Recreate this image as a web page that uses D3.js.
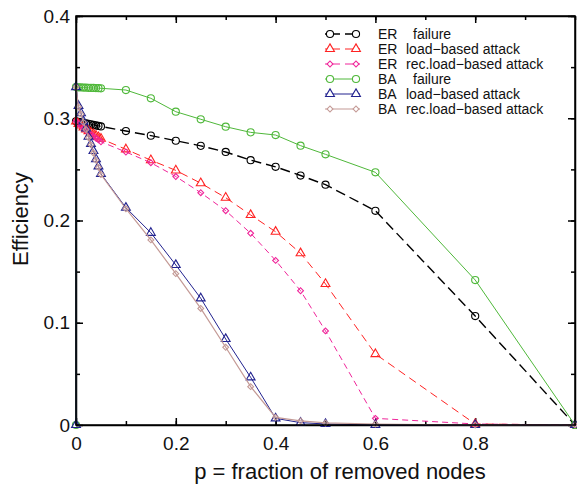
<!DOCTYPE html>
<html>
<head>
<meta charset="utf-8">
<script src="https://cdn.jsdelivr.net/npm/d3@7"></script>
<style>
  body { margin: 0; background: #fff; }
  svg { display: block; font-family: Arial, "Liberation Sans", sans-serif; }
  .axis path, .axis line { stroke: #000; stroke-width: 1.5; }
  .axis text { font-size: 19px; fill: #111; }
</style>
</head>
<body>
<div class="svg"></div>
<script>
//============= DATA =============//
// fraction of removed nodes, dense near 0 then coarse
const pValues = [0, 0.005, 0.01, 0.015, 0.02, 0.025, 0.03, 0.035, 0.04, 0.045, 0.05,
                 0.1, 0.15, 0.2, 0.25, 0.3, 0.35, 0.4, 0.45, 0.5, 0.6, 0.8, 1.0];

const erFailure = [0.297, 0.2965, 0.296, 0.2955, 0.295, 0.2945, 0.294, 0.2935, 0.293, 0.2925, 0.292,
                   0.2875, 0.283, 0.278, 0.273, 0.267, 0.259, 0.2525, 0.244, 0.235, 0.2095, 0.1065, 0.0];
const erLoad = [0.297, 0.2945, 0.293, 0.291, 0.289, 0.2875, 0.286, 0.2845, 0.283, 0.2815, 0.280,
                0.2696, 0.259, 0.249, 0.2365, 0.2223, 0.2054, 0.189, 0.168, 0.138, 0.0694, 0.001, 0.0];
const erRecLoad = [0.297, 0.2945, 0.2926, 0.2904, 0.2882, 0.286, 0.2842, 0.2824, 0.2806, 0.2788, 0.277,
                   0.267, 0.2565, 0.243, 0.2272, 0.2096, 0.1875, 0.161, 0.1313, 0.092, 0.0065, 0.001, 0.0];
const baFailure = [0.3305, 0.3303, 0.3301, 0.33, 0.3299, 0.3298, 0.3297, 0.3296, 0.3295, 0.3294, 0.3293,
                   0.3276, 0.3195, 0.3064, 0.299, 0.2917, 0.2862, 0.2836, 0.2732, 0.2647, 0.2471, 0.1418, 0.0];
const baLoad = [0.3305, 0.312, 0.305, 0.297, 0.290, 0.282, 0.275, 0.268, 0.260, 0.253, 0.2456,
                0.2125, 0.188, 0.1565, 0.1239, 0.0841, 0.0466, 0.0065, 0.0023, 0.001, 0.0, 0.0, 0.0];
const baRecLoad = [0.3305, 0.311, 0.304, 0.296, 0.289, 0.281, 0.274, 0.266, 0.259, 0.252, 0.245,
                   0.2115, 0.181, 0.148, 0.114, 0.076, 0.0375, 0.0075, 0.004, 0.002, 0.001, 0.0, 0.0];
// stray marks sitting on the origin for two BA runs
const originPoints = [{p: 0, e: 0}];

const xTickLabels = [0, 0.2, 0.4, 0.6, 0.8];
const yTickLabels = [0, 0.1, 0.2, 0.3, 0.4];

const series = [
  {net: "ER", name: "failure", values: erFailure, color: "#000000", dash: "10,5", width: 1.4, symbol: "circle", origin: false},
  {net: "ER", name: "load\u2212based attack", values: erLoad, color: "#ff2222", dash: "8,5", width: 1, symbol: "triangle", origin: false},
  {net: "ER", name: "rec.load\u2212based attack", values: erRecLoad, color: "#f0259a", dash: "6,4", width: 1, symbol: "diamond", origin: false},
  {net: "BA", name: "failure", values: baFailure, color: "#4fb83a", dash: null, width: 1, symbol: "circle", origin: true},
  {net: "BA", name: "load\u2212based attack", values: baLoad, color: "#22228f", dash: null, width: 1, symbol: "triangle", origin: true},
  {net: "BA", name: "rec.load\u2212based attack", values: baRecLoad, color: "#c49a96", dash: null, width: 1.2, symbol: "diamond", origin: false}
];

//============= SETUP =============//
const W = 577, H = 489;
const margin = {top: 16, right: 2, bottom: 64, left: 76};
const width = W - margin.left - margin.right,
      height = H - margin.top - margin.bottom;

const x = d3.scaleLinear().domain([0, 1]).range([0, width]);
const y = d3.scaleLinear().domain([0, 0.4]).range([height, 0]);

const svg = d3.select(".svg").append("svg")
    .attr("width", W)
    .attr("height", H);

const g = svg.append("g")
    .attr("transform", "translate(" + margin.left + "," + margin.top + ")");

//============= AXES =============//
const xMinor = d3.range(0, 1.0001, 0.1);
const yMinor = d3.range(0, 0.4001, 0.05);

// minor ticks (no labels), all four sides
g.append("g").attr("class", "axis")
    .attr("transform", "translate(0," + height + ")")
    .call(d3.axisBottom(x).tickValues(xMinor).tickSizeInner(-4).tickSizeOuter(0).tickFormat(""));
g.append("g").attr("class", "axis")
    .call(d3.axisTop(x).tickValues(xMinor).tickSizeInner(-4).tickSizeOuter(0).tickFormat(""));
g.append("g").attr("class", "axis")
    .call(d3.axisLeft(y).tickValues(yMinor).tickSizeInner(-4).tickSizeOuter(0).tickFormat(""));
g.append("g").attr("class", "axis")
    .attr("transform", "translate(" + width + ",0)")
    .call(d3.axisRight(y).tickValues(yMinor).tickSizeInner(-4).tickSizeOuter(0).tickFormat(""));

// major ticks with labels
g.append("g").attr("class", "axis")
    .attr("transform", "translate(0," + height + ")")
    .call(d3.axisBottom(x).tickValues(xTickLabels).tickSizeInner(-7).tickSizeOuter(0).tickPadding(12)
      .tickFormat(d => d === 0 ? "0" : d3.format(".1f")(d)))
    .select(".domain").remove();
g.append("g").attr("class", "axis")
    .call(d3.axisLeft(y).tickValues(yTickLabels).tickSizeInner(-7).tickSizeOuter(0).tickPadding(6)
      .tickFormat(d => d === 0 ? "0" : d3.format(".1f")(d)))
    .select(".domain").remove();
g.append("g").attr("class", "axis")
    .call(d3.axisTop(x).tickValues(xTickLabels).tickSizeInner(-7).tickSizeOuter(0).tickFormat(""))
    .select(".domain").remove();
g.append("g").attr("class", "axis")
    .attr("transform", "translate(" + width + ",0)")
    .call(d3.axisRight(y).tickValues(yTickLabels).tickSizeInner(-7).tickSizeOuter(0).tickFormat(""))
    .select(".domain").remove();

// axis titles
svg.append("text")
    .attr("x", 340).attr("y", 479)
    .attr("text-anchor", "middle")
    .style("font-size", "22px").style("fill", "#111")
    .text("p = fraction of removed nodes");
svg.append("text")
    .attr("transform", "translate(28,219) rotate(-90)")
    .attr("text-anchor", "middle")
    .style("font-size", "22px").style("fill", "#111")
    .text("Efficiency");

//============= LINES & MARKERS =============//
const symbols = {
  circle: d3.symbol().type(d3.symbolCircle).size(40),
  triangle: d3.symbol().type(d3.symbolTriangle).size(34),
  diamond: d3.symbol().type(d3.symbolSquare).size(17)   // drawn rotated 45deg
};
const symRotate = s => s === "diamond" ? " rotate(45)" : "";

const line = d3.line()
    .x(d => x(d.p))
    .y(d => y(d.e));

series.forEach(s => {
  let pts = pValues.map((p, i) => ({p: p, e: s.values[i]}));
  if (s.origin) pts = originPoints.concat(pts);

  g.append("path")
      .datum(pts)
      .attr("fill", "none")
      .attr("stroke", s.color)
      .attr("stroke-width", s.width)
      .attr("stroke-dasharray", s.dash)
      .attr("d", line);

  g.selectAll(null)
      .data(pts)
      .enter().append("path")
      .attr("transform", d => "translate(" + x(d.p) + "," + y(d.e) + ")" + symRotate(s.symbol))
      .attr("d", symbols[s.symbol]())
      .attr("fill", "none")
      .attr("stroke", s.color)
      .attr("stroke-width", 1.1);
});

// redraw the frame lines on top of the data
g.append("rect")
    .attr("width", width).attr("height", height)
    .attr("fill", "none").attr("stroke", "#000").attr("stroke-width", 1.5);

//============= LEGEND =============//
const legend = svg.append("g");
series.forEach((s, i) => {
  const yy = 39 + i * 15;
  const row = legend.append("g");
  row.append("line")
      .attr("x1", 325).attr("x2", 360)
      .attr("y1", yy - 5).attr("y2", yy - 5)
      .attr("stroke", s.color)
      .attr("stroke-width", s.width)
      .attr("stroke-dasharray", s.dash ? "15,5" : null);
  [330, 356].forEach(mx => {
    row.append("path")
        .attr("transform", "translate(" + mx + "," + (yy - 5) + ")" + symRotate(s.symbol))
        .attr("d", symbols[s.symbol]())
        .attr("fill", "#fff")
        .attr("stroke", s.color)
        .attr("stroke-width", 1.1);
  });
  row.append("text")
      .attr("x", 378).attr("y", yy)
      .style("font-size", "14px").style("fill", "#111")
      .text(s.net);
  row.append("text")
      .attr("x", s.name === "failure" ? 413 : 406).attr("y", yy)
      .style("font-size", "14px").style("fill", "#111")
      .text(s.name);
});
</script>
</body>
</html>
